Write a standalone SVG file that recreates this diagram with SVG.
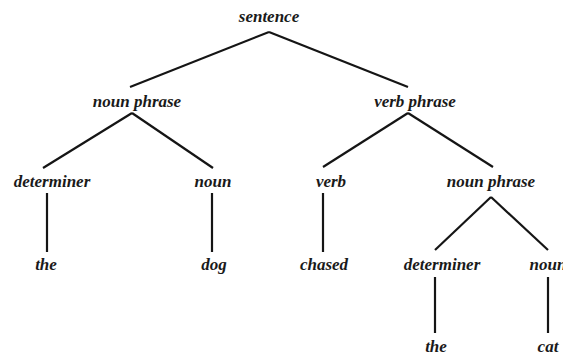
<svg xmlns="http://www.w3.org/2000/svg" width="563" height="355" viewBox="0 0 563 355">
<style>
text{font-family:"Liberation Serif","Times New Roman",serif;font-style:italic;font-weight:bold;font-size:17px;text-anchor:middle;fill:#1a1a1a}
.e line{stroke:#151515;stroke-width:2.2;stroke-linecap:butt}
</style>
<rect width="563" height="355" fill="#fff"/>
<g id="connectors" class="e">
<line x1="269" y1="32" x2="130" y2="87"/>
<line x1="269" y1="32" x2="408" y2="87"/>
<line x1="132" y1="113" x2="43" y2="168"/>
<line x1="132" y1="113" x2="213" y2="168"/>
<line x1="408" y1="113" x2="323" y2="167"/>
<line x1="408" y1="113" x2="493" y2="167"/>
<line x1="47" y1="193" x2="47" y2="252"/>
<line x1="212" y1="193" x2="212" y2="252"/>
<line x1="323" y1="193" x2="323" y2="252"/>
<line x1="491" y1="197" x2="435" y2="250"/>
<line x1="491" y1="197" x2="548" y2="250"/>
<line x1="435" y1="277" x2="435" y2="333"/>
<line x1="548" y1="277" x2="548" y2="333"/>
</g>
<g id="sentence"><text x="269" y="22">sentence</text></g>
<g id="np1"><text x="137" y="107">noun phrase</text></g>
<g id="vp"><text x="415" y="107">verb phrase</text></g>
<g id="det1"><text x="52" y="187">determiner</text></g>
<g id="noun1"><text x="213" y="187">noun</text></g>
<g id="verb"><text x="331" y="187">verb</text></g>
<g id="np2"><text x="491" y="187">noun phrase</text></g>
<g id="the1"><text x="46" y="270">the</text></g>
<g id="dog"><text x="214" y="270">dog</text></g>
<g id="chased"><text x="324" y="270">chased</text></g>
<g id="det2"><text x="442" y="270">determiner</text></g>
<g id="noun2"><text x="548" y="270">noun</text></g>
<g id="the2"><text x="436" y="352">the</text></g>
<g id="cat"><text x="548" y="352">cat</text></g>
</svg>
